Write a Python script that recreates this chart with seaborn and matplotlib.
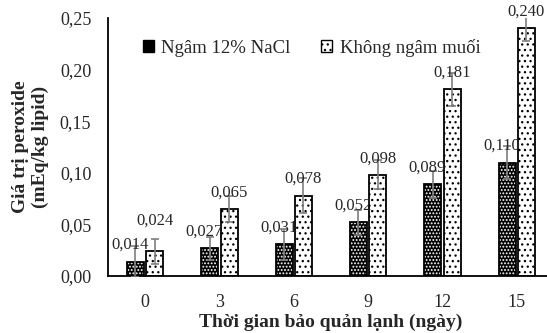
import numpy as np
import pandas as pd
import matplotlib
matplotlib.use("Agg")
import matplotlib.pyplot as plt
import matplotlib.patches as mpatches
import seaborn as sns

days = ["0", "3", "6", "9", "12", "15"]
treatments = ["Ngâm 12% NaCl", "Không ngâm muối"]
nacl = [0.014, 0.027, 0.031, 0.052, 0.089, 0.110]
no_salt = [0.024, 0.065, 0.078, 0.098, 0.181, 0.240]
nacl_err = [0.015, 0.011, 0.015, 0.012, 0.013, 0.016]
no_salt_err = [0.012, 0.013, 0.017, 0.014, 0.016, 0.012]

df = pd.DataFrame({
    "day": days * 2,
    "group": [treatments[0]] * 6 + [treatments[1]] * 6,
    "value": nacl + no_salt,
})

sns.set_style("white")
plt.rcParams["font.family"] = ["Liberation Serif", "DejaVu Serif"]
plt.rcParams["hatch.linewidth"] = 0.9

fig = plt.figure(figsize=(5.47, 3.33), dpi=100)
ax = fig.add_axes([0.1974, 0.171, 0.8154, 0.775])

sns.barplot(data=df, x="day", y="value", hue="group", order=days,
            hue_order=treatments, width=0.52, gap=0.12, errorbar=None,
            legend=False, ax=ax)

styles = [dict(fc="black", hc="white", hatch="....."),
          dict(fc="white", hc="black", hatch="...")]
errs = [nacl_err, no_salt_err]
vals = [nacl, no_salt]
shift = [-4, 0]
bars = list(ax.containers)
for k, cont in enumerate(bars):
    st = styles[k]
    for i, p in enumerate(cont.patches):
        p.set_facecolor(st["fc"])
        p.set_edgecolor(st["hc"])
        p.set_hatch(st["hatch"])
        p.set_linewidth(0)
        ax.add_patch(mpatches.Rectangle(p.get_xy(), p.get_width(), p.get_height(),
                                        fill=False, edgecolor="black", lw=1.3, zorder=3))
        cx = p.get_x() + p.get_width() / 2
        ax.errorbar(cx, vals[k][i], yerr=errs[k][i], color="#7f7f7f",
                    elinewidth=1.2, capsize=3, capthick=1.2, zorder=4)
        extra = 10 if (k == 1 and i == 0) else 0
        ax.annotate(f"{vals[k][i]:.3f}".replace(".", ","), (cx, vals[k][i]),
                    xytext=(shift[k], 12 + extra), textcoords="offset points",
                    ha="center", va="center", fontsize=12, zorder=5)

ax.set_ylim(0, 0.25)
ax.set_xlim(-0.5, 5.5)
ax.set_yticks(np.arange(0, 0.26, 0.05))
ax.set_yticklabels([f"{t:.2f}".replace(".", ",") for t in np.arange(0, 0.26, 0.05)])
ax.tick_params(axis="both", length=0, labelsize=13)
ax.tick_params(axis="y", pad=12)
ax.tick_params(axis="x", pad=13)
for s in ["top", "right"]:
    ax.spines[s].set_visible(False)
for s in ["left", "bottom"]:
    ax.spines[s].set_color("black")
    ax.spines[s].set_linewidth(1.3)

ax.set_xlabel("Thời gian bảo quản lạnh (ngày)", fontsize=14, fontweight="bold", labelpad=2)
ax.set_ylabel("Giá trị peroxide\n(mEq/kg lipid)", fontsize=14, fontweight="bold", labelpad=8)

handles = [mpatches.Patch(facecolor=st["fc"], edgecolor="black", hatch=st["hatch"], lw=1)
           for st in styles]
leg = ax.legend(handles, treatments, ncol=2, frameon=False, fontsize=13.5,
                loc="upper left", bbox_to_anchor=(0.04, 0.985),
                handlelength=0.6, handleheight=0.6, handletextpad=0.4, columnspacing=1.6)

fig.savefig("out.png", dpi=100)
